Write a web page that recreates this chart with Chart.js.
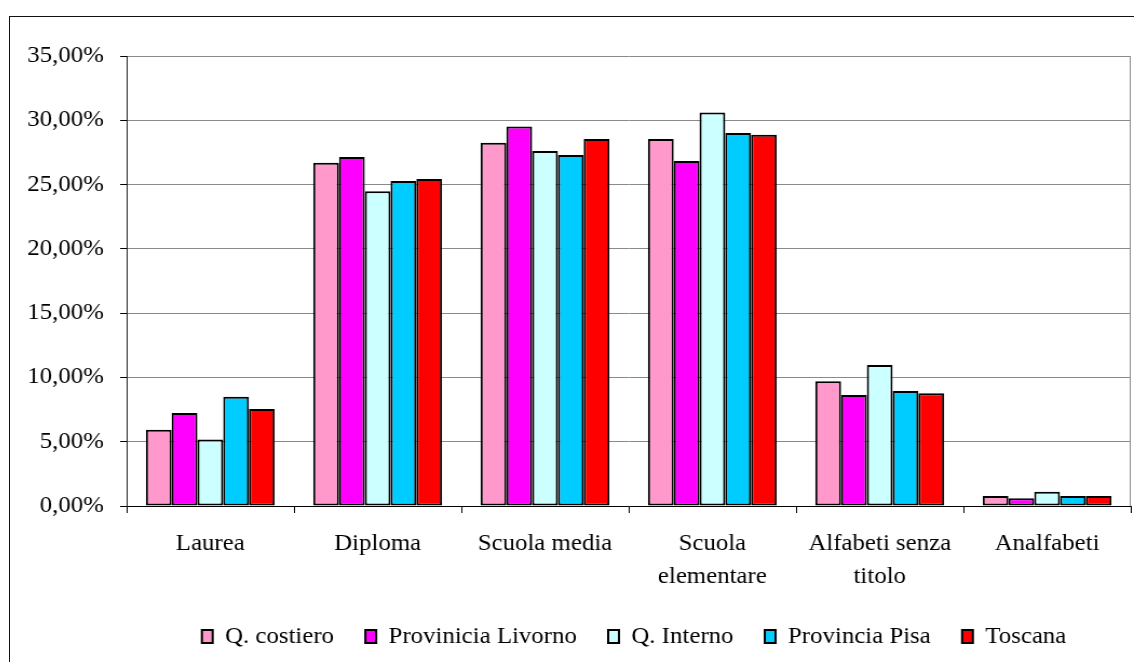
<!DOCTYPE html>
<html>
<head>
<meta charset="utf-8">
<script src="https://cdn.jsdelivr.net/npm/chart.js@4/dist/chart.umd.min.js"></script>
<style>
  body { margin: 0; background: #fff; overflow: hidden; width: 1134px; height: 662px; position: relative; }
  #frame { position: absolute; left: 9px; top: 16px; width: 1300px; height: 800px; border-left: 1.5px solid #111; border-top: 1.5px solid #111; }
  #c { position: absolute; left: 10px; top: 17px; }
</style>
</head>
<body>
<div id="frame"></div>
<canvas id="c" width="1041" height="645" style="width:1124px;height:645px"></canvas>
<script>
// categorie
const categorie = ["Laurea", "Diploma", "Scuola media", ["Scuola", "elementare"], ["Alfabeti senza", "titolo"], "Analfabeti"];

// valori in percentuale
const qCostiero   = [5.93, 26.70, 28.26, 28.55, 9.70, 0.78];
const provLivorno = [7.23, 27.15, 29.51, 26.83, 8.63, 0.60];
const qInterno    = [5.17, 24.49, 27.61, 30.60, 10.97, 1.11];
const provPisa    = [8.50, 25.27, 27.30, 29.02, 8.95, 0.78];
const toscana     = [7.54, 25.43, 28.55, 28.88, 8.76, 0.78];

const serie = [
    { label: "Q. costiero", data: qCostiero, color: "#FF99CC" },
    { label: "Provinicia Livorno", data: provLivorno, color: "#FF00FF" },
    { label: "Q. Interno", data: qInterno, color: "#CCFFFF" },
    { label: "Provincia Pisa", data: provPisa, color: "#00CCFF" },
    { label: "Toscana", data: toscana, color: "#FF0000" }
];

const font = "'Liberation Serif', 'Times New Roman', serif";

// bordo destro grigio dell'area e legenda spostata come nell'originale
const ritocchi = {
    id: "ritocchi",
    afterLayout(chart) {
        chart.legend.left += 59;
        chart.legend.right += 59;
    },
    afterDraw(chart) {
        const a = chart.chartArea;
        const ctx = chart.ctx;
        ctx.save();
        ctx.strokeStyle = "#8a8a8a";
        ctx.lineWidth = 1;
        ctx.beginPath();
        ctx.moveTo(a.right - 0.5, a.top);
        ctx.lineTo(a.right - 0.5, a.bottom);
        ctx.stroke();
        ctx.restore();
    }
};

new Chart(document.getElementById("c"), {
    type: "bar",
    data: {
        labels: categorie,
        datasets: serie.map(s => ({
            label: s.label,
            data: s.data,
            backgroundColor: s.color,
            borderColor: "#000",
            borderWidth: 2,
            borderSkipped: false,
            categoryPercentage: 0.77,
            barPercentage: 1
        }))
    },
    options: {
        responsive: false,
        animation: false,
        devicePixelRatio: 1,
        layout: { padding: { top: 39, right: 3, bottom: 4, left: 0 } },
        plugins: {
            tooltip: { enabled: false },
            legend: {
                position: "bottom",
                labels: {
                    color: "#000",
                    font: { family: font, size: 23 },
                    boxWidth: 10,
                    boxHeight: 13,
                    padding: 29
                }
            }
        },
        scales: {
            x: {
                afterFit: s => { s.height = 90; },
                grid: { drawOnChartArea: false, drawTicks: true, tickLength: 7, color: "#000" },
                border: { color: "#000", width: 1 },
                ticks: {
                    color: "#000",
                    font: { family: font, size: 23, lineHeight: 1.45 },
                    padding: 14,
                    maxRotation: 0,
                    autoSkip: false
                }
            },
            y: {
                min: 0,
                max: 35,
                afterFit: s => { s.width = 108; },
                grid: { color: "#8a8a8a", lineWidth: 1, tickLength: 6, tickColor: "#000" },
                border: { color: "#222", width: 1 },
                ticks: {
                    stepSize: 5,
                    color: "#000",
                    padding: 15,
                    font: { family: font, size: 23 },
                    callback: v => v.toFixed(2).replace(".", ",") + "%"
                }
            }
        }
    },
    plugins: [ritocchi]
});
</script>
</body>
</html>
